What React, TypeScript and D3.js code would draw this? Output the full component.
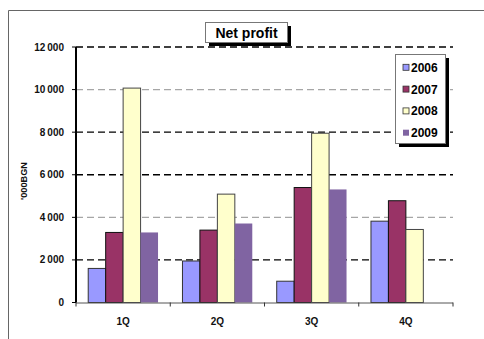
import React from "react";
import * as d3 from "d3";

const categories = ["1Q", "2Q", "3Q", "4Q"];
const seriesNames = ["2006", "2007", "2008", "2009"];
const values2006 = [1600, 1950, 1000, 3820];
const values2007 = [3290, 3400, 5400, 4780];
const values2008 = [10070, 5090, 7950, 3430];
const values2009 = [3290, 3710, 5310, 0];
const yTicks = [0, 2000, 4000, 6000, 8000, 10000, 12000];
const seriesValues = [values2006, values2007, values2008, values2009];
const fills = ["#9999FF", "#993366", "#FFFFCC", "#8064A2"];
const strokes = ["#333333", "#111111", "#444444", "none"];

const W = 484;
const H = 339;
const font = "'Liberation Sans', Arial, sans-serif";

export default function App() {
  const left = 76, right = 453, top = 47, bottom = 302.5;
  const x0 = d3.scaleBand<string>().domain(categories).range([left, right]).paddingInner(0).paddingOuter(0);
  const x1 = d3.scaleBand<string>().domain(seriesNames).range([0, x0.bandwidth()]).paddingInner(0).paddingOuter(0.7);
  const y = d3.scaleLinear().domain([0, 12000]).range([bottom, top]);
  const loc = d3.formatLocale({ decimal: ".", thousands: "\u2009", grouping: [3], currency: ["", ""] });
  const fmt = loc.format(",d");
  const boundaries = [...categories.map((c) => x0(c) as number), right];

  return (
    <svg width={W} height={H} style={{ position: "absolute", left: 0, top: 0 }}>
      <rect x={0} y={0} width={W} height={H} fill="#fff" />
      {/* outer frame */}
      <line x1={8.5} y1={10.5} x2={W} y2={10.5} stroke="#666" strokeWidth={1} />
      <line x1={8.5} y1={10.5} x2={8.5} y2={H} stroke="#666" strokeWidth={1} />

      {/* gridlines */}
      {yTicks.filter((t) => t > 0).map((t) => (
        <line key={t} x1={left} x2={right} y1={y(t)} y2={y(t)}
          stroke={t === 10000 || t === 4000 ? "#a6a6a6" : "#000"}
          strokeWidth={1.3} strokeDasharray="7,4" />
      ))}

      {/* bars */}
      {categories.map((c, ci) => (
        <g key={c} transform={`translate(${x0(c)},0)`}>
          {seriesNames.map((s, si) => {
            const v = seriesValues[si][ci];
            if (!v) return null;
            return (
              <rect key={s} x={x1(s)} y={y(v)} width={x1.bandwidth()} height={bottom - y(v)}
                fill={fills[si]} stroke={strokes[si]} strokeWidth={1} />
            );
          })}
        </g>
      ))}

      {/* x axis */}
      <line x1={left} x2={right} y1={bottom + 0.5} y2={bottom + 0.5} stroke="#555" strokeWidth={1} />
      {boundaries.map((b, i) => (
        <line key={i} x1={b} x2={b} y1={bottom} y2={bottom + 4} stroke="#333" strokeWidth={1} />
      ))}
      {categories.map((c) => (
        <text key={c} x={(x0(c) as number) + x0.bandwidth() / 2} y={325} textAnchor="middle"
          fontFamily={font} fontWeight="bold" fontSize={10} fill="#111">{c}</text>
      ))}

      {/* y axis */}
      <line x1={left} x2={left} y1={top} y2={bottom} stroke="#000" strokeWidth={2} />
      {yTicks.map((t) => (
        <g key={t}>
          <line x1={left - 4} x2={left} y1={y(t)} y2={y(t)} stroke="#000" strokeWidth={1} />
          <text x={64} y={y(t) + 3.5} textAnchor="end" fontFamily={font} fontWeight="bold" fontSize={10} fill="#111">{fmt(t)}</text>
        </g>
      ))}
      <text transform={`translate(26.5,181) rotate(-90)`} textAnchor="middle" fontFamily={font} fontWeight="bold" fontSize={9.5} fill="#111"
        textLength={38} lengthAdjust="spacingAndGlyphs">'000BGN</text>

      {/* title */}
      <rect x={209} y={26} width={82} height={20} fill="#000" />
      <rect x={205.5} y={22.5} width={82} height={20} fill="#fff" stroke="#777" strokeWidth={1} />
      <text x={246.5} y={38} textAnchor="middle" fontFamily={font} fontWeight="bold" fontSize={14} fill="#000">Net profit</text>

      {/* legend */}
      <rect x={399} y={58} width={50} height={89} fill="#000" />
      <rect x={395.5} y={54.5} width={50} height={89} fill="#fff" stroke="#777" strokeWidth={1} />
      {seriesNames.map((s, i) => {
        const cy = 67.3 + i * 21.8;
        return (
          <g key={s}>
            <rect x={403} y={cy - 3} width={6} height={6} fill={fills[i]} stroke={i === 3 ? "none" : "#333"} strokeWidth={0.8} />
            <text x={411} y={cy + 4.5} fontFamily={font} fontWeight="bold" fontSize={12} fill="#000">{s}</text>
          </g>
        );
      })}
    </svg>
  );
}
